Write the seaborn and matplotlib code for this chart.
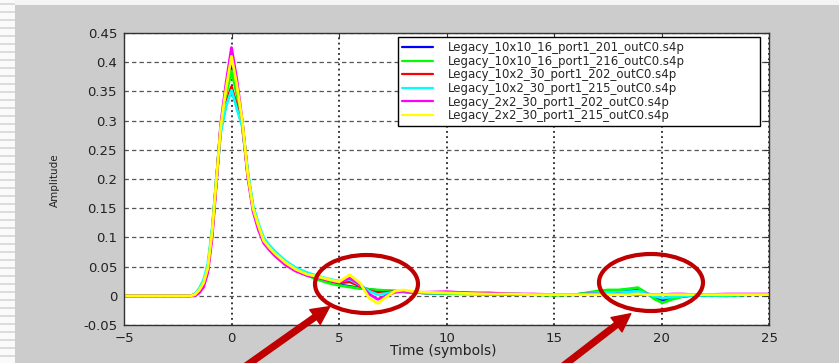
import matplotlib
matplotlib.use("Agg")
import matplotlib.pyplot as plt
from matplotlib.patches import Ellipse, Rectangle, FancyArrowPatch
import pandas as pd
import seaborn as sns

# ---- data -------------------------------------------------------------
time_symbols = [-5.0, -1.9, -1.7, -1.5, -1.3, -1.1, -0.9, -0.7, -0.5, -0.25,
                0.0, 0.25, 0.5, 0.75, 1.0, 1.25, 1.5, 1.75,
                2.0, 2.5, 3.0, 3.5, 4.0, 4.5, 5.0, 5.5, 6.0, 6.4, 6.8, 7.2, 7.6, 8.0, 8.5,
                9.0, 10.0, 11.0, 12.0, 13.0, 14.0, 15.0,
                16.0, 16.5, 17.0, 17.5, 18.0, 18.5, 18.9, 19.3, 19.7, 20.05, 20.5,
                21.0, 21.5, 22.0, 23.0, 24.0, 25.0]

trace_names = [
    "Legacy_10x10_16_port1_201_outC0.s4p",
    "Legacy_10x10_16_port1_216_outC0.s4p",
    "Legacy_10x2_30_port1_202_outC0.s4p",
    "Legacy_10x2_30_port1_215_outC0.s4p",
    "Legacy_2x2_30_port1_202_outC0.s4p",
    "Legacy_2x2_30_port1_215_outC0.s4p",
]
trace_colors = ["#0000ff", "#00ff00", "#ff0000", "#00ffff", "#ff00ff", "#ffff00"]

amp_10x10_201 = [0, 0, 0.002, 0.01, 0.022, 0.047, 0.11, 0.2, 0.29, 0.35,
                 0.395, 0.35, 0.298, 0.21, 0.15, 0.12, 0.094, 0.083,
                 0.073, 0.057, 0.045, 0.036, 0.03, 0.024, 0.019, 0.016, 0.013, 0.011, 0.009, 0.008, 0.008, 0.007, 0.006,
                 0.005, 0.004, 0.004, 0.003, 0.003, 0.002, 0.002,
                 0.002, 0.004, 0.006, 0.008, 0.008, 0.009, 0.011, 0.004, -0.004, -0.007, -0.004,
                 -0.001, 0.001, 0.001, 0.001, 0.002, 0.002]
amp_10x10_216 = [0, 0, 0.002, 0.01, 0.022, 0.047, 0.11, 0.2, 0.29, 0.345,
                 0.385, 0.345, 0.296, 0.21, 0.15, 0.12, 0.094, 0.083,
                 0.073, 0.057, 0.045, 0.035, 0.028, 0.022, 0.018, 0.015, 0.0125, 0.011, 0.01, 0.009, 0.008, 0.007, 0.006,
                 0.005, 0.004, 0.003, 0.003, 0.002, 0.002, 0.001,
                 0.002, 0.005, 0.008, 0.01, 0.01, 0.012, 0.014, 0.005, -0.006, -0.012, -0.006,
                 -0.001, 0.001, 0.001, 0.0, 0.002, 0.002]
amp_10x2_202 = [0, 0, 0.002, 0.009, 0.021, 0.046, 0.108, 0.198, 0.285, 0.33,
                0.358, 0.325, 0.292, 0.21, 0.15, 0.12, 0.094, 0.083,
                0.073, 0.057, 0.045, 0.037, 0.032, 0.027, 0.022, 0.024, 0.016, 0.009, 0.005, 0.006, 0.007, 0.007, 0.006,
                0.005, 0.006, 0.005, 0.003, 0.003, 0.002, 0.002,
                0.002, 0.002, 0.003, 0.003, 0.003, 0.003, 0.003, 0.002, 0.002, 0.002, 0.002,
                0.002, 0.002, 0.002, 0.002, 0.002, 0.002]
amp_10x2_215 = [0, 0, 0.003, 0.013, 0.027, 0.055, 0.115, 0.2, 0.28, 0.325,
                0.352, 0.32, 0.29, 0.215, 0.155, 0.124, 0.099, 0.087,
                0.077, 0.06, 0.048, 0.04, 0.034, 0.029, 0.025, 0.028, 0.018, 0.008, 0.002, 0.004, 0.007, 0.008, 0.006,
                0.005, 0.005, 0.004, 0.003, 0.003, 0.002, 0.002,
                0.002, 0.003, 0.005, 0.006, 0.006, 0.007, 0.008, 0.004, -0.001, -0.004, -0.002,
                0.0, 0.001, 0.001, 0.001, 0.002, 0.002]
amp_2x2_202 = [0, 0, 0.0, 0.005, 0.015, 0.04, 0.1, 0.195, 0.295, 0.365,
               0.425, 0.37, 0.3, 0.205, 0.145, 0.113, 0.09, 0.079,
               0.069, 0.053, 0.042, 0.035, 0.031, 0.027, 0.023, 0.03, 0.019, 0.003, -0.006, 0.0, 0.006, 0.008, 0.006,
               0.006, 0.007, 0.005, 0.005, 0.003, 0.003, 0.002,
               0.002, 0.003, 0.003, 0.002, 0.003, 0.002, 0.002, 0.003, 0.002, 0.002, 0.003,
               0.003, 0.002, 0.002, 0.003, 0.003, 0.003]
amp_2x2_215 = [0, 0, 0.002, 0.01, 0.022, 0.048, 0.11, 0.2, 0.29, 0.355,
               0.41, 0.36, 0.3, 0.21, 0.15, 0.12, 0.094, 0.083,
               0.073, 0.057, 0.045, 0.037, 0.033, 0.028, 0.024, 0.036, 0.021, -0.004, -0.013, -0.002, 0.008, 0.01, 0.007,
               0.006, 0.005, 0.004, 0.003, 0.003, 0.002, 0.002,
               0.002, 0.002, 0.002, 0.002, 0.002, 0.002, 0.003, 0.002, 0.002, 0.002, 0.002,
               0.002, 0.002, 0.002, 0.002, 0.002, 0.002]

x_ticks = [-5, 0, 5, 10, 15, 20, 25]
y_ticks = [-0.05, 0.0, 0.05, 0.1, 0.15, 0.2, 0.25, 0.3, 0.35, 0.4, 0.45]
y_tick_labels = ["-0.05", "0", "0.05", "0.1", "0.15", "0.2", "0.25", "0.3", "0.35", "0.4", "0.45"]

amplitudes = [amp_10x10_201, amp_10x10_216, amp_10x2_202, amp_10x2_215, amp_2x2_202, amp_2x2_215]
frames = []
for name, amp in zip(trace_names, amplitudes):
    assert len(amp) == len(time_symbols)
    frames.append(pd.DataFrame({"time": time_symbols, "amplitude": amp, "trace": name}))
df = pd.concat(frames, ignore_index=True)

# ---- figure -----------------------------------------------------------
sns.set_style("white")
plt.rcParams["font.family"] = ["DejaVu Sans"]

W, H = 839, 363
fig = plt.figure(figsize=(W / 100, H / 100), dpi=100, facecolor="#cccccc")

# light slide border: top band and striped left margin
fig.add_artist(Rectangle((0, 1 - 5 / H), 1, 5 / H, transform=fig.transFigure,
                         facecolor="#f4f4f4", edgecolor="none", zorder=0))
fig.add_artist(Rectangle((0, 0), 15 / W, 1, transform=fig.transFigure,
                         facecolor="#fafafa", edgecolor="none", zorder=0))
for yp in range(3, H, 8):
    fig.add_artist(Rectangle((0, 1 - (yp + 2) / H), 15 / W, 2 / H, transform=fig.transFigure,
                             facecolor="#dcdcdc", edgecolor="none", zorder=0))

ax = fig.add_axes([124 / W, 38 / H, 645 / W, 292 / H])
ax.set_facecolor("white")

sns.lineplot(data=df, x="time", y="amplitude", hue="trace", hue_order=trace_names,
             palette=dict(zip(trace_names, trace_colors)), estimator=None, sort=False,
             linewidth=2.0, ax=ax)

ax.set_xlim(-5, 25)
ax.set_ylim(-0.05, 0.45)
ax.set_xticks(x_ticks)
ax.set_yticks(y_ticks)
ax.set_yticklabels(y_tick_labels)

ax.xaxis.grid(True, linestyle=(0, (1.2, 2.2)), color="black", linewidth=1.1)
ax.yaxis.grid(True, linestyle=(0, (3.5, 2.5)), color="#555555", linewidth=0.9)
ax.set_axisbelow(True)

for sp in ax.spines.values():
    sp.set_color("#333333")
    sp.set_linewidth(1.0)
ax.tick_params(direction="in", length=3.5, width=0.8, top=True, right=True,
               labelsize=9.5, pad=5, color="#333333", labelcolor="#222222")

ax.set_xlabel("Time (symbols)", fontsize=10, color="#222222")
ax.xaxis.set_label_coords(0.495, -0.065)
ax.set_ylabel("Amplitude", fontsize=7.5, color="#222222")
ax.yaxis.set_label_coords(-0.099, 0.497)

old = ax.get_legend()
handles = old.legend_handles
labels = [t.get_text() for t in old.get_texts()]
old.remove()
for h in handles:
    h.set_linewidth(1.6)
leg = ax.legend(handles, labels, loc="upper left",
                bbox_to_anchor=(0.4248, 0.5, 0.561, 0.486), mode="expand",
                borderaxespad=0, fontsize=8.5, frameon=True, fancybox=False,
                edgecolor="black", framealpha=1, handlelength=2.6, handletextpad=1.3,
                labelspacing=0.05, borderpad=0.35)
leg.get_frame().set_linewidth(1.0)

# highlight rings and pointer arrows (figure pixel coordinates, y from top)
ring_color = "#c00000"
for cx, cy, ew, eh in [(366.5, 284, 103, 58), (651, 282.5, 104, 57)]:
    fig.add_artist(Ellipse((cx / W, 1 - cy / H), ew / W, eh / H, transform=fig.transFigure,
                           fill=False, edgecolor=ring_color, linewidth=3, zorder=10))
for (x0, y0), (x1, y1) in [((236, 373), (332, 305)), ((554, 373), (633, 312))]:
    fig.add_artist(FancyArrowPatch((x0 / W, 1 - y0 / H), (x1 / W, 1 - y1 / H),
                                   transform=fig.transFigure,
                                   arrowstyle="simple,head_width=1.0,head_length=1.0,tail_width=0.32",
                                   mutation_scale=13, color=ring_color, zorder=11))

fig.savefig("out.png", dpi=100, facecolor=fig.get_facecolor())
